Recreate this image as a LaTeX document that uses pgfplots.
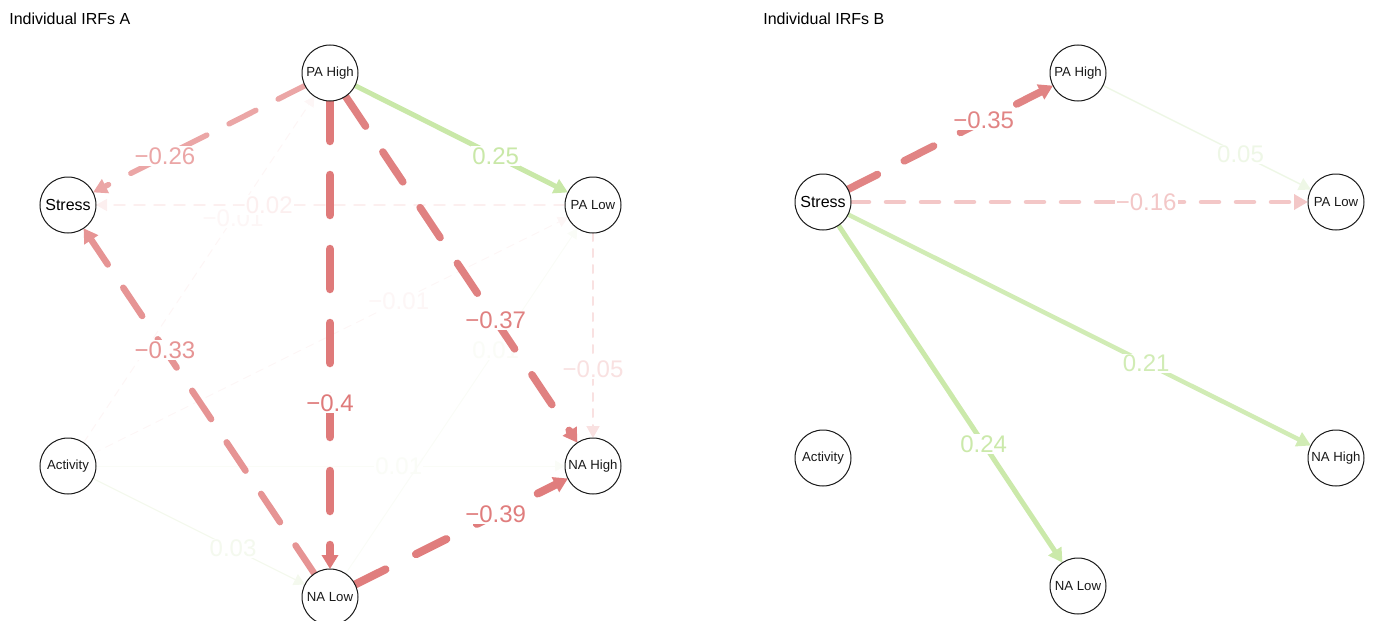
\documentclass[border=0pt]{standalone}
\usepackage{pgfplots}
\pgfplotsset{compat=1.18}
\usetikzlibrary{arrows.meta}
\usepackage{fontspec}
\setmainfont{Liberation Sans}

\definecolor{m01}{HTML}{FDF6F6}
\definecolor{m02}{HTML}{FCEFEF}
\definecolor{m05}{HTML}{F9E1E1}
\definecolor{m16}{HTML}{F3C7C7}
\definecolor{m26}{HTML}{EBA6A6}
\definecolor{m33}{HTML}{E69494}
\definecolor{m35}{HTML}{E18484}
\definecolor{m37}{HTML}{E08181}
\definecolor{m39}{HTML}{E07D7D}
\definecolor{m40}{HTML}{DF7A7A}
\definecolor{p01}{HTML}{FAFCF7}
\definecolor{p03}{HTML}{F4F9EE}
\definecolor{p05}{HTML}{EEF7E6}
\definecolor{p21}{HTML}{D1ECB5}
\definecolor{p24}{HTML}{CBE9AA}
\definecolor{p25}{HTML}{C9E8A8}

\tikzset{
  E/.style={line cap=round, shorten >=14pt, shorten <=14pt},
  lab/.style={pos=0.63, fill=white, inner sep=0.6pt, font=\fontsize{12}{12}\selectfont},
}

\begin{document}
\begin{tikzpicture}
\begin{axis}[
  width=686.5pt, height=310.5pt, scale only axis,
  xmin=0, xmax=1373, ymin=0, ymax=621, y dir=reverse,
  hide axis, clip=false,
]
% ---------------- Panel A ----------------
\addplot[E, draw=m01, line width=0.5pt, dash pattern=on 4pt off 3pt, -{Triangle[length=5pt,width=5.5pt]}]
  coordinates {(68,466) (330,73)} node[lab, text=m01] {−0.01};
\addplot[E, draw=m01, line width=0.5pt, dash pattern=on 4pt off 3pt, -{Triangle[length=5pt,width=5.5pt]}]
  coordinates {(68,466) (593,205)} node[lab, text=m01] {−0.01};
\addplot[E, draw=p01, line width=0.5pt, -{Triangle[length=5pt,width=5.5pt]}]
  coordinates {(68,466) (593,466)} node[lab, text=p01] {0.01};
\addplot[E, draw=p01, line width=0.5pt, -{Triangle[length=5pt,width=5.5pt]}]
  coordinates {(330,597) (593,205)} node[lab, text=p01] {0.01};
\addplot[E, draw=m02, line width=0.75pt, dash pattern=on 5.5pt off 4.5pt, -{Triangle[length=5.5pt,width=6pt]}]
  coordinates {(593,205) (68,205)} node[lab, text=m02] {−0.02};
\addplot[E, draw=p03, line width=0.6pt, -{Triangle[length=5.5pt,width=6pt]}]
  coordinates {(68,466) (330,597)} node[lab, text=p03] {0.03};
\addplot[E, draw=m05, line width=1pt, dash pattern=on 4pt off 4pt, -{Triangle[length=6pt,width=6.5pt]}]
  coordinates {(593,205) (593,466)} node[lab, text=m05] {−0.05};
\addplot[E, draw=p25, line width=2.5pt, -{Triangle[length=7pt,width=7.5pt]}]
  coordinates {(330,73) (593,205)} node[lab, text=p25] {0.25};
\addplot[E, draw=m26, line width=2.75pt, dash pattern=on 15pt off 12.5pt, -{Triangle[length=7pt,width=7.5pt]}]
  coordinates {(330,73) (68,205)} node[lab, text=m26] {−0.26};
\addplot[E, draw=m33, line width=3.25pt, dash pattern=on 17pt off 14pt, -{Triangle[length=7pt,width=8pt]}]
  coordinates {(330,597) (68,205)} node[lab, text=m33] {−0.33};
\addplot[E, draw=m37, line width=3.75pt, dash pattern=on 18pt off 15.5pt, -{Triangle[length=7pt,width=8pt]}]
  coordinates {(330,73) (593,466)} node[lab, text=m37] {−0.37};
\addplot[E, draw=m39, line width=4pt, dash pattern=on 17pt off 17pt, -{Triangle[length=7pt,width=8pt]}]
  coordinates {(330,597) (593,466)} node[lab, text=m39] {−0.39};
\addplot[E, draw=m40, line width=4.25pt, dash pattern=on 20pt off 17pt, -{Triangle[length=7pt,width=8pt]}]
  coordinates {(330,73) (330,597)} node[lab, text=m40] {−0.4};

% ---------------- Panel B ----------------
\addplot[E, draw=p05, line width=0.75pt, -{Triangle[length=6pt,width=6.5pt]}]
  coordinates {(1078,73) (1336,202)} node[lab, text=p05] {0.05};
\addplot[E, draw=m16, line width=2.25pt, dash pattern=on 9pt off 8.5pt, -{Triangle[length=7pt,width=7.5pt]}]
  coordinates {(823,202) (1336,202)} node[lab, text=m16] {−0.16};
\addplot[E, draw=p21, line width=2.25pt, -{Triangle[length=7pt,width=7.5pt]}]
  coordinates {(823,202) (1336,458)} node[lab, text=p21] {0.21};
\addplot[E, draw=p24, line width=2.5pt, -{Triangle[length=7pt,width=7.5pt]}]
  coordinates {(823,202) (1078,586)} node[lab, text=p24] {0.24};
\addplot[E, draw=m35, line width=3.75pt, dash pattern=on 16.5pt off 15pt, -{Triangle[length=7pt,width=8pt]}]
  coordinates {(823,202) (1078,73)} node[lab, text=m35] {−0.35};

% ---------------- Nodes ----------------
\addplot[only marks, mark=*, mark size=14pt,
  mark options={fill=white, draw=black!90, line width=0.5pt},
  point meta=explicit symbolic, nodes near coords,
  nodes near coords align={anchor=center},
  every node near coord/.append style={inner sep=0pt, text=black!90, font=\fontsize{6.6}{6.6}\selectfont}]
  coordinates {
    (330,73) [PA High] (593,205) [PA Low] (68,466) [Activity] (593,466) [NA High] (330,597) [NA Low]
    (1078,73) [PA High] (1336,202) [PA Low] (823,458) [Activity] (1336,458) [NA High] (1078,586) [NA Low]
  };
\addplot[only marks, mark=*, mark size=14pt,
  mark options={fill=white, draw=black!90, line width=0.5pt},
  point meta=explicit symbolic, nodes near coords,
  nodes near coords align={anchor=center},
  every node near coord/.append style={inner sep=0pt, text=black, font=\fontsize{8}{8}\selectfont}]
  coordinates {(68,205) [Stress] (823,202) [Stress]};

\node[anchor=base west, inner sep=0pt, font=\fontsize{8}{8}\selectfont] at (axis cs:9,25) {Individual IRFs A};
\node[anchor=base west, inner sep=0pt, font=\fontsize{8}{8}\selectfont] at (axis cs:763,25) {Individual IRFs B};
\end{axis}
\pgfresetboundingbox
\path[use as bounding box] (current axis.south west) rectangle (current axis.north east);
\end{tikzpicture}
\end{document}
